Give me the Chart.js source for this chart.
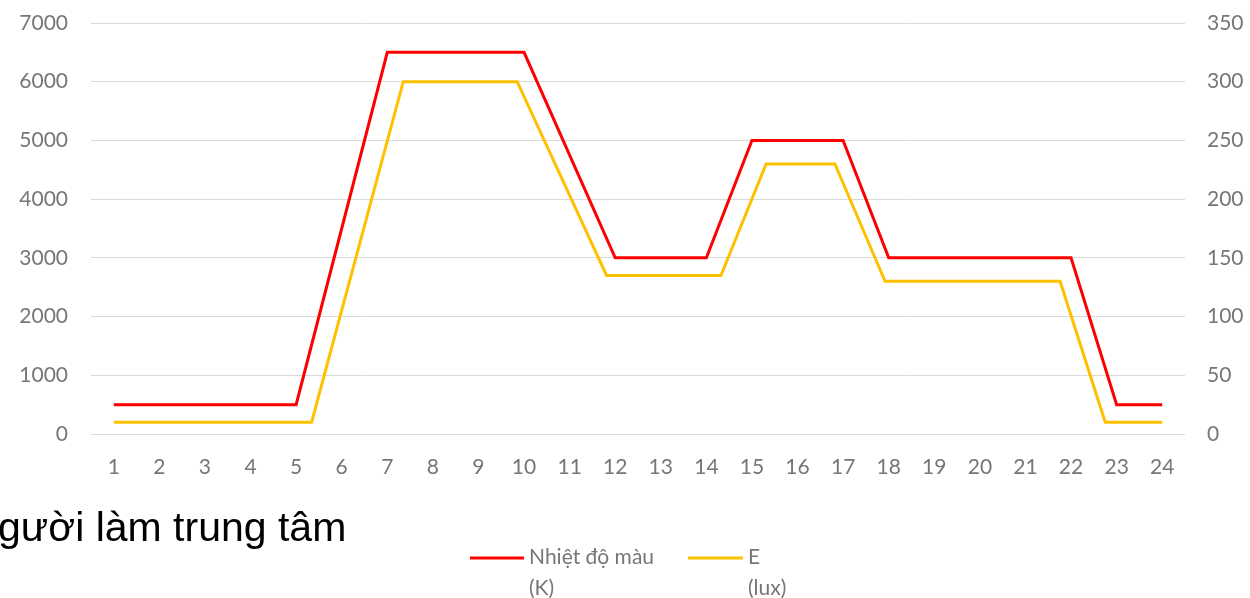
<!DOCTYPE html>
<html>
<head>
<meta charset="utf-8">
<script src="https://cdn.jsdelivr.net/npm/chart.js@4.4.1/dist/chart.umd.min.js"></script>
<style>
  html, body { margin: 0; padding: 0; background: #fff; overflow: hidden; }
  #wrap { position: relative; width: 1250px; height: 598px; }
  #c { position: absolute; left: 0; top: 0; }
  #caption {
    position: absolute; left: -2px; top: 507px;
    font: 41px "Liberation Sans", Arial, sans-serif; line-height: 40px;
    color: #000; white-space: nowrap;
  }
</style>
</head>
<body>
<div id="wrap">
  <canvas id="c" width="1250" height="598"></canvas>
  <div id="caption">gười làm trung tâm</div>
</div>
<script>
// Hours of the day (category axis)
const hours = ['1','2','3','4','5','6','7','8','9','10','11','12',
               '13','14','15','16','17','18','19','20','21','22','23','24'];

// Colour temperature per hour, Kelvin (left axis)
const colorTemp = [500, 500, 500, 500, 500, 3500, 6500, 6500, 6500, 6500, 4750, 3000,
                   3000, 3000, 5000, 5000, 5000, 3000, 3000, 3000, 3000, 3000, 500, 500];

// Illuminance profile, lux (right axis) – breakpoints in hours
const luxHours  = [1, 5.34, 7.35, 9.85, 11.81, 14.32, 15.31, 16.82, 17.92, 21.76, 22.75, 24];
const luxValues = [10, 10, 300, 300, 135, 135, 230, 230, 130, 130, 10, 10];

// Series labels (two-line legend entries)
const tempLabel = ['Nhiệt độ màu', '(K)'];
const luxLabel  = ['E', '(lux)'];

const tickColor = '#767676';
const tickFont = { family: 'Lato, "Open Sans", sans-serif', size: 21 };
const plainNumber = v => String(v);

// Legend drawn under the plot, each entry with a wrapped label
const bottomLegend = {
  id: 'bottomLegend',
  afterDraw(chart) {
    const ctx = chart.ctx;
    const slots = [
      { ds: 0, x0: 470, x1: 524, tx: 529 },
      { ds: 1, x0: 688, x1: 743, tx: 748 }
    ];
    ctx.save();
    ctx.font = '21px Lato, "Open Sans", sans-serif';
    ctx.fillStyle = tickColor;
    ctx.textBaseline = 'middle';
    ctx.textAlign = 'left';
    slots.forEach(s => {
      const ds = chart.data.datasets[s.ds];
      ctx.strokeStyle = ds.borderColor;
      ctx.lineWidth = 3;
      ctx.beginPath();
      ctx.moveTo(s.x0, 558);
      ctx.lineTo(s.x1, 558);
      ctx.stroke();
      ds.label.forEach((line, i) => ctx.fillText(line, s.tx, 557 + i * 31));
    });
    ctx.restore();
  }
};

new Chart(document.getElementById('c'), {
  type: 'line',
  data: {
    labels: hours,
    datasets: [
      {
        label: tempLabel,
        data: colorTemp,
        borderColor: '#FF0000',
        borderWidth: 3,
        pointRadius: 0,
        tension: 0,
        xAxisID: 'x',
        yAxisID: 'y'
      },
      {
        label: luxLabel,
        data: luxHours.map((h, i) => ({ x: h, y: luxValues[i] })),
        borderColor: '#FFC000',
        borderWidth: 3,
        pointRadius: 0,
        tension: 0,
        xAxisID: 'x2',
        yAxisID: 'y1'
      }
    ]
  },
  options: {
    responsive: false,
    devicePixelRatio: 1,
    animation: false,
    layout: { padding: { top: 23, left: 0, right: 0, bottom: 0 } },
    plugins: { legend: { display: false }, tooltip: { enabled: false } },
    scales: {
      x: {
        type: 'category',
        offset: true,
        position: 'bottom',
        grid: { display: false, drawTicks: false },
        border: { display: false },
        ticks: { color: tickColor, font: tickFont, padding: 21, maxRotation: 0, autoSkip: false },
        afterFit(s) { s.height = 164; }
      },
      x2: {
        type: 'linear',
        display: false,
        position: 'bottom',
        min: 0.5,
        max: 24.5
      },
      y: {
        position: 'left',
        min: 0,
        max: 7000,
        ticks: { stepSize: 1000, color: tickColor, font: tickFont, padding: 0, callback: plainNumber },
        grid: { color: '#d9d9d9', lineWidth: 1, drawTicks: true, tickLength: 23, tickColor: 'rgba(0,0,0,0)' },
        border: { display: false },
        afterFit(s) { s.width = 91; }
      },
      y1: {
        position: 'right',
        min: 0,
        max: 350,
        ticks: { stepSize: 50, color: tickColor, font: tickFont, padding: 0, callback: plainNumber },
        grid: { display: false, drawTicks: true, tickLength: 22 },
        border: { display: false },
        afterFit(s) { s.width = 65; }
      }
    }
  },
  plugins: [bottomLegend]
});
</script>
</body>
</html>
